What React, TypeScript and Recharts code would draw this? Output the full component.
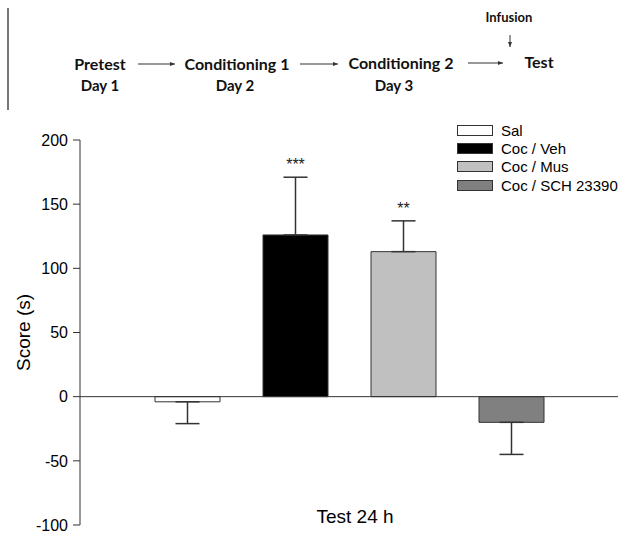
import React from 'react';
import {
  BarChart,
  Bar,
  XAxis,
  YAxis,
  ErrorBar,
  LabelList,
  Legend,
  ReferenceLine,
} from 'recharts';

const categories = ['Test 24 h'];
const groups = ['Sal', 'Coc / Veh', 'Coc / Mus', 'Coc / SCH 23390'];
const means = [-4, 126, 113, -20];
const sems = [17, 45, 24, 25];
const stars = ['', '***', '**', ''];
const yTicks = [-100, -50, 0, 50, 100, 150, 200];

const fills = ['#ffffff', '#000000', '#c0c0c0', '#808080'];
const EDGE = '#333333';
const FONT = 'Arial, "Liberation Sans", sans-serif';
const HEAD_FONT = 'Lato, "Open Sans", sans-serif';

// one row per category, one key per group; the error bar only goes away from zero
const data = categories.map((name) => {
  const row: Record<string, any> = { name };
  groups.forEach((_, i) => {
    row[`g${i}`] = means[i];
    row[`e${i}`] = means[i] < 0 ? [sems[i], 0] : [0, sems[i]];
  });
  return row;
});

const starLabel = (i: number) => (props: any) => {
  const { x, y, width, height, value } = props;
  if (!stars[i] || !value) return null;
  const pxPerUnit = Math.abs(Number(height) / Number(value));
  const capY = Number(y) - sems[i] * pxPerUnit;
  return (
    <text
      x={Number(x) + Number(width) / 2}
      y={capY - 7}
      textAnchor="middle"
      fontSize={16}
      fontFamily={FONT}
      fill="#222"
    >
      {stars[i]}
    </text>
  );
};

const renderLegend = () => (
  <div style={{ fontFamily: FONT, fontSize: 15, color: '#000' }}>
    {groups.map((g, i) => (
      <div key={g} style={{ display: 'flex', alignItems: 'center', height: 18.3 }}>
        <span
          style={{
            display: 'inline-block',
            width: 34,
            height: 9,
            background: fills[i],
            border: `1px solid ${EDGE}`,
            marginRight: 8,
          }}
        />
        {g}
      </div>
    ))}
  </div>
);

const XTick = (props: any) => {
  const { x, y, payload } = props;
  return (
    <text x={x + 6} y={y} dy={-10} textAnchor="middle" fontSize={19} fontFamily={FONT} fill="#000">
      {payload.value}
    </text>
  );
};

const headText = (text: string, cx: number, cy: number, size: number) => (
  <div
    key={text}
    style={{
      position: 'absolute',
      left: cx - 80,
      top: cy - size * 0.7,
      width: 160,
      textAlign: 'center',
      fontFamily: HEAD_FONT,
      fontWeight: 700,
      fontSize: size,
      lineHeight: `${size * 1.4}px`,
      color: '#111',
    }}
  >
    {text}
  </div>
);

const Timeline = () => (
  <>
    {headText('Pretest', 100, 64, 16)}
    {headText('Day 1', 100, 85, 15)}
    {headText('Conditioning 1', 237, 64, 16)}
    {headText('Day 2', 235, 85, 15)}
    {headText('Conditioning 2', 401, 63, 16)}
    {headText('Day 3', 394, 85, 15)}
    {headText('Test', 539, 62, 16)}
    {headText('Infusion', 509, 17, 13)}
    <svg
      width={619}
      height={110}
      style={{ position: 'absolute', left: 0, top: 0 }}
    >
      <defs>
        <marker id="ah" markerWidth="6" markerHeight="6" refX="5" refY="3" orient="auto">
          <path d="M0,1 L5,3 L0,5 z" fill="#333" />
        </marker>
      </defs>
      <g stroke="#333" strokeWidth={1} markerEnd="url(#ah)">
        <line x1={138} y1={64} x2={175} y2={64} />
        <line x1={300} y1={64} x2={338} y2={64} />
        <line x1={468} y1={63} x2={503} y2={63} />
        <line x1={510} y1={35} x2={510} y2={47} />
      </g>
      <line x1={8} y1={8} x2={8} y2={270} stroke="#777" strokeWidth={2} />
    </svg>
  </>
);

export default function App() {
  return (
    <div style={{ position: 'absolute', left: 0, top: 0, width: 619, height: 534, background: '#fff' }}>
      <Timeline />
      <div style={{ position: 'absolute', left: 0, top: 0 }}>
        <BarChart
          width={619}
          height={534}
          data={data}
          margin={{ top: 140, right: 1, bottom: 8, left: 20 }}
          barSize={65}
          barGap={43}
        >
          <XAxis
            dataKey="name"
            axisLine={false}
            tickLine={false}
            height={1}
            tick={<XTick />}
            interval={0}
          />
          <YAxis
            domain={[-100, 200]}
            ticks={yTicks}
            interval={0}
            width={60}
            axisLine={{ stroke: EDGE }}
            tickLine={{ stroke: EDGE }}
            tickSize={7}
            tickMargin={5}
            tick={{ fontSize: 16, fontFamily: FONT, fill: '#000' }}
            label={{
              value: 'Score (s)',
              angle: -90,
              position: 'insideLeft',
              offset: 3,
              style: { textAnchor: 'middle', fontSize: 19, fontFamily: FONT, fill: '#000' },
            }}
          />
          <ReferenceLine y={0} stroke={EDGE} strokeWidth={1} />
          {groups.map((g, i) => (
            <Bar
              key={g}
              dataKey={`g${i}`}
              name={g}
              fill={fills[i]}
              stroke={EDGE}
              strokeWidth={1}
              isAnimationActive={false}
            >
              <ErrorBar dataKey={`e${i}`} width={12} stroke={EDGE} strokeWidth={1.5} />
              <LabelList dataKey={`g${i}`} content={starLabel(i)} />
            </Bar>
          ))}
          <Legend
            layout="vertical"
            align="center"
            verticalAlign="middle"
            content={renderLegend}
            wrapperStyle={{ top: 121, left: 457, width: 'auto' }}
          />
        </BarChart>
      </div>
    </div>
  );
}
